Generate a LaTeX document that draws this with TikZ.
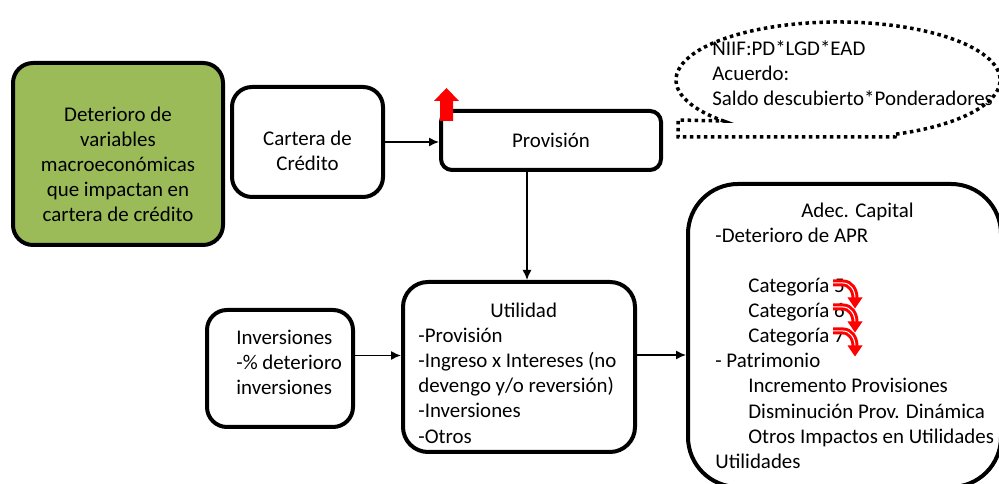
\documentclass[tikz,border=0pt]{standalone}
\usepackage{fontspec}
\setmainfont{Carlito}
\usepackage{xcolor}
\usepackage{tikz}
\usetikzlibrary{shapes.geometric, arrows.meta, positioning}
\definecolor{macrogreen}{HTML}{9BBB59}

\begin{document}
\begin{tikzpicture}[node distance=4cm, font=\fontsize{11.9}{14.3}\selectfont]
\tikzstyle{block} = [rectangle, rounded corners=0.4cm, line width=0.08cm, draw=black, text centered, inner sep=0pt]
\tikzstyle{blocktext} = [inner sep=0pt, anchor=west, align=left]
\tikzstyle{arrow} = [line width=0.8pt, -{Latex[length=0.2cm, width=0.18cm]}]
\tikzstyle{callout} = [line width=0.07cm, dash pattern=on 0.07cm off 0.07cm]
\tikzstyle{redturn} = [draw=red, line width=0.06cm, double=white, double distance=0.02cm]

\useasboundingbox (0,0) rectangle (19.98,9.68);

% Main components
\node (macro) [block, fill=macrogreen, minimum width=4.2cm, minimum height=3.64cm, align=center] at (2.36,6.60) {\rule{0pt}{0.7cm}Deterioro de\\variables\\macroeconómicas\\que impactan en\\cartera de crédito};
\node (cartera) [block, right of=macro, xshift=-0.21cm, yshift=0.24cm, minimum width=3.02cm, minimum height=2.2cm, align=center] {\rule{0pt}{0.66cm}Cartera de\\Crédito};
\node (prov) [block, rounded corners=0.22cm, right of=cartera, xshift=0.87cm, yshift=0.03cm, minimum width=4.4cm, minimum height=1.18cm] {Provisión};
\node (util) [block, rounded corners=0.5cm, below of=prov, xshift=-0.64cm, yshift=-0.53cm, minimum width=4.64cm, minimum height=3.4cm] {};
\node (inv) [block, left of=util, xshift=-0.78cm, yshift=-0.03cm, minimum width=2.92cm, minimum height=2.34cm] {};
\node (adec) [block, rounded corners=1cm, right of=util, xshift=2.51cm, yshift=0.63cm, minimum width=6.26cm, minimum height=6.06cm] {};

% Box contents
\node (utiltxt) [blocktext, right=0.34cm of util.west, yshift=-0.12cm] {\hspace*{1.44cm}Utilidad\\-Provisión\\-Ingreso x Intereses (no\\devengo y/o reversión)\\-Inversiones\\-Otros};
\node (invtxt) [blocktext, right=0.62cm of inv.west, yshift=0.12cm] {Inversiones\\-\% deterioro\\inversiones};
\node (adectxt) [blocktext, right=0.58cm of adec.west] {\hspace*{1.72cm}Adec. Capital\\-Deterioro de APR\\\mbox{}\\\hspace*{0.66cm}Categoría 5\\\hspace*{0.66cm}Categoría 6\\\hspace*{0.66cm}Categoría 7\\- Patrimonio\\\hspace*{0.66cm}Incremento Provisiones\\\hspace*{0.66cm}Disminución Prov. Dinámica\\\hspace*{0.66cm}Otros Impactos en Utilidades\\Utilidades};

% Dotted callout
\coordinate (bubble) at (16.76,8.08);
\draw [callout] (bubble) ++(-69:3.24cm and 1.16cm) arc[start angle=-69, end angle=225, x radius=3.24cm, y radius=1.16cm] -- (13.56,7.28) -- (13.56,6.94) -- (17.90,6.94) -- cycle;
\node (formula) [blocktext] at (14.24,8.22) {NIIF:PD*LGD*EAD\\Acuerdo:\\Saldo descubierto*Ponderadores};

% Red markers
\fill [red] (prov.north west) ++(0.02,-0.24) -- ++(0.26,0) -- ++(0,0.40) -- ++(0.12,0) -- ++(-0.25,0.26) -- ++(-0.25,-0.26) -- ++(0.12,0) -- cycle;
\foreach \k in {0,1,2} {
  \draw [redturn] (16.66,{4.02-0.48*\k}) -- ++(0.2,0) to[out=0, in=90] ++(0.24,-0.3);
  \fill [red] (16.95,{3.73-0.48*\k}) -- ++(0.3,0) -- ++(-0.15,-0.22) -- cycle;
}

% Arrows
\draw [arrow] (cartera.east) -- (cartera.east -| prov.west);
\draw [arrow] ([xshift=0.16cm]util.north |- prov.south) -- ([xshift=0.16cm]util.north);
\draw [arrow] ([yshift=0.26cm]inv.east) -- ([yshift=0.26cm]inv.east -| util.west);
\draw [arrow] ([yshift=0.24cm]util.east) -- ([yshift=0.24cm]util.east -| adec.west);
\end{tikzpicture}
\end{document}
